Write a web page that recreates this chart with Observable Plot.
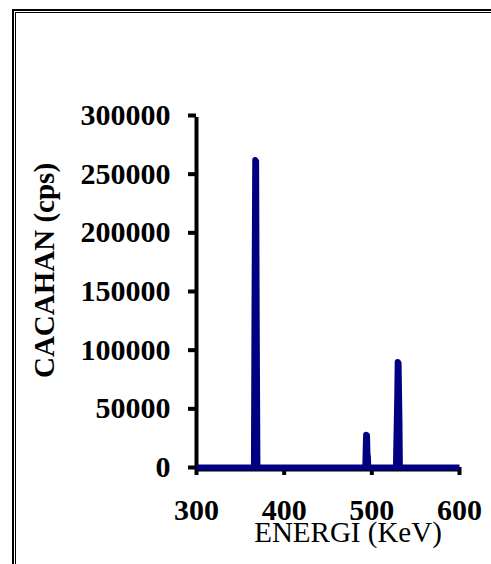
<!DOCTYPE html>
<html>
<head>
<meta charset="utf-8">
<script src="https://cdn.jsdelivr.net/npm/d3@7"></script>
<script src="https://cdn.jsdelivr.net/npm/@observablehq/plot@0.6"></script>
<style>
  html, body { margin: 0; padding: 0; background: #fff; overflow: hidden; }
  #wrap { position: relative; width: 491px; height: 564px; overflow: hidden; }
  #frameOuter { position: absolute; left: 12px; top: 9px; width: 700px; height: 800px; border: 2px solid #000; box-sizing: border-box; }
  #frameInner { position: absolute; left: 15px; top: 12px; width: 700px; height: 800px; border: 1px solid #000; box-sizing: border-box; }
  #chart { position: absolute; left: 0; top: 0; }
</style>
</head>
<body>
<div id="wrap">
  <div id="frameOuter"></div>
  <div id="frameInner"></div>
  <div id="chart"></div>
</div>
<script>
// Spectrum readings (energy in keV, counts in cps)
const energy = [300, 365.5, 366.2, 367, 368, 368.7, 369.5, 492.5, 493, 493.5, 494.5, 495, 495.5, 496, 527.5, 528, 529, 529.5, 530.5, 531.5, 532, 600];
const counts = [0, 0, 140000, 262000, 261000, 120000, 0, 0, 15000, 28000, 27500, 12000, 9000, 0, 0, 22000, 60000, 90000, 89000, 40000, 0, 0];

const xTicks = [300, 400, 500, 600];
const yTicks = [0, 50000, 100000, 150000, 200000, 250000, 300000];
const xLabel = "ENERGI (KeV)";
const yLabel = "CACAHAN (cps)";

const data = energy.map((e, i) => ({energy: e, counts: counts[i]}));

const chart = Plot.plot({
  width: 491,
  height: 564,
  marginLeft: 196,
  marginRight: 32,
  marginTop: 115,
  marginBottom: 97,
  style: {fontFamily: "'Liberation Serif', 'Times New Roman', serif", fontSize: "30px", fontWeight: "bold", color: "#000", background: "transparent"},
  x: {domain: [300, 600]},
  y: {domain: [0, 300000]},
  marks: [
    Plot.axisY({ticks: yTicks, tickFormat: d => String(d), tickSize: 8, tickPadding: 18, strokeWidth: 4, label: null}),
    Plot.axisX({ticks: xTicks, tickFormat: d => String(d), tickSize: 8, tickPadding: 23, strokeWidth: 4, label: null}),
    Plot.ruleX([300], {y1: 0, y2: 300000, strokeWidth: 4, stroke: "#000", dy: 2}),
    Plot.ruleY([0], {x1: 300, x2: 600, strokeWidth: 4, stroke: "#000", dy: 2}),
    Plot.line(data, {x: "energy", y: "counts", stroke: "#000080", strokeWidth: 6, strokeLinejoin: "round", strokeLinecap: "butt"}),
    Plot.text([yLabel], {text: d => d, frameAnchor: "left", lineAnchor: "middle", rotate: -90, dx: -152, dy: -21, fontSize: 29, fontWeight: "bold", fill: "#000", textAnchor: "middle"}),
    Plot.text([xLabel], {text: d => d, frameAnchor: "bottom", lineAnchor: "middle", dx: 20, dy: 65, fontSize: 29, fontWeight: "normal", fill: "#000", textAnchor: "middle"})
  ]
});
document.getElementById("chart").appendChild(chart);
</script>
</body>
</html>
